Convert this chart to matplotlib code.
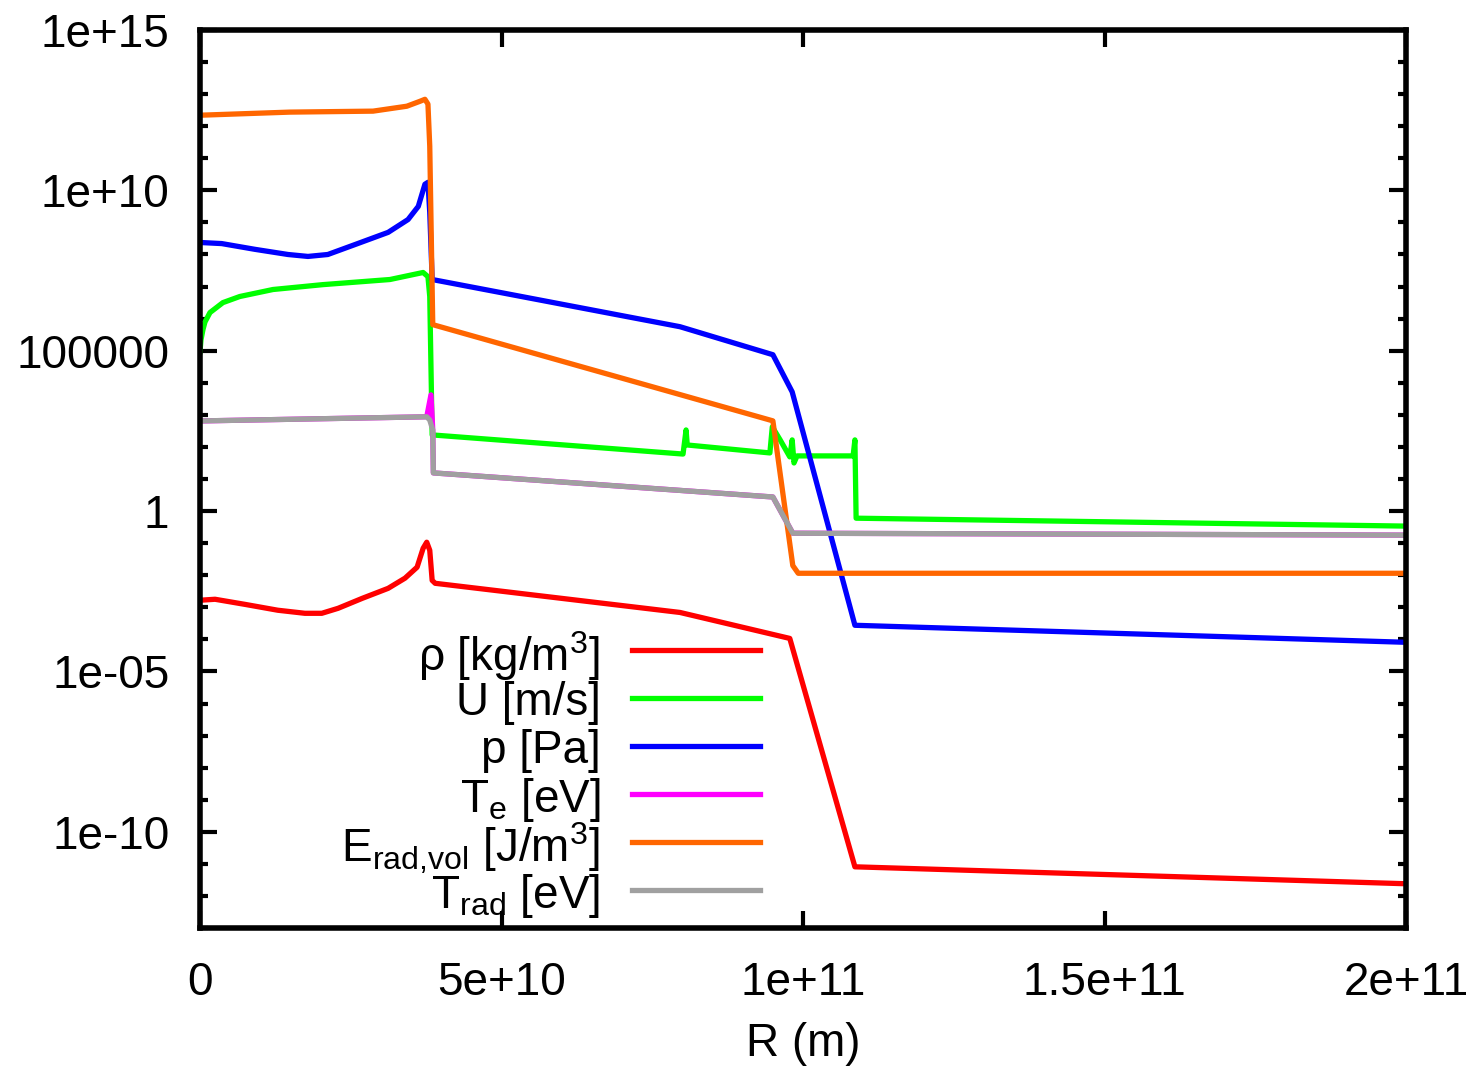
"""
Radiative shock profile: log-scale plot of the hydro and radiation fields vs. radius.
"""
import matplotlib
matplotlib.use("Agg")
import matplotlib.pyplot as plt
from matplotlib.lines import Line2D
from matplotlib.ticker import LogLocator, NullFormatter, FixedLocator

# ── Data ──────────────────────────────────────────────────────────────────
# density rho [kg/m^3]
R_RHO = [0, 0.25e10, 0.75e10, 1.29e10, 1.74e10, 2.02e10, 2.29e10, 2.69e10, 3.12e10,
         3.40e10, 3.60e10, 3.70e10, 3.76e10, 3.81e10, 3.85e10, 3.90e10,
         7.96e10, 9.78e10, 10.86e10, 20.0e10]
RHO = [1.66e-3, 1.78e-3, 1.23e-3, 8.1e-4, 6.5e-4, 6.5e-4, 9.3e-4, 1.9e-3, 3.9e-3,
       8.1e-3, 1.78e-2, 6.9e-2, 1.07e-1, 6.0e-2, 6.9e-3, 5.6e-3,
       6.9e-4, 1.07e-4, 8.1e-12, 2.4e-12]

# velocity U [m/s]
R_U = [0, 0.017e10, 0.05e10, 0.083e10, 0.166e10, 0.38e10, 0.66e10, 1.21e10, 2.04e10,
       3.15e10, 3.70e10, 3.78e10, 3.81e10, 3.85e10, 8.01e10, 8.06e10, 8.08e10, 9.45e10,
       9.49e10, 9.62e10, 9.78e10, 9.82e10, 9.85e10, 9.90e10, 10.83e10, 10.86e10,
       10.88e10, 20.0e10]
U = [9.3e4, 2.2e5, 4.6e5, 7.9e5, 1.55e6, 3.16e6, 4.9e6, 8.1e6, 1.15e7,
     1.66e7, 2.75e7, 2.04e7, 4.9e6, 237, 60, 339, 115, 65,
     422, 166, 49, 166, 31.6, 52.5, 52.5, 166,
     0.60, 0.34]

# pressure p [Pa]
R_P = [0, 0.36e10, 0.91e10, 1.46e10, 1.79e10, 2.12e10, 2.57e10, 3.12e10, 3.45e10,
       3.62e10, 3.73e10, 3.78e10, 3.81e10, 3.85e10,
       7.96e10, 9.50e10, 9.82e10, 10.86e10, 20.0e10]
P = [2.37e8, 2.19e8, 1.45e8, 1.0e8, 8.7e7, 1.0e8, 2.04e8, 4.9e8, 1.23e9,
     3.16e9, 1.55e10, 1.78e10, 2.04e9, 1.66e7,
     5.6e5, 7.5e4, 5.2e3, 2.75e-4, 8.1e-5]

# electron temperature Te [eV]
R_TE = [0, 3.76e10, 3.83e10, 3.86e10, 3.87e10, 9.50e10, 9.83e10, 20.0e10]
TE = [646, 870, 4.2e3, 339, 15.5, 2.75, 0.204, 0.178]

# radiation energy density E_rad,vol [J/m^3]
R_ERAD = [0, 1.49e10, 2.87e10, 3.43e10, 3.65e10, 3.73e10, 3.78e10, 3.81e10, 3.86e10,
          9.50e10, 9.83e10, 9.92e10, 20.0e10]
ERAD = [2.2e12, 2.75e12, 2.95e12, 4.2e12, 6.0e12, 6.9e12, 4.9e12, 2.37e11, 6.5e5,
        6.5e2, 2.0e-2, 1.15e-2, 1.15e-2]

# radiation temperature Trad [eV]
R_TRAD = [0, 3.76e10, 3.81e10, 3.86e10, 3.87e10, 9.50e10, 9.83e10, 20.0e10]
TRAD = [646, 870, 690, 339, 15.5, 2.75, 0.204, 0.178]

LABELS = ["ρ [kg/m$^3$]", "U [m/s]", "p [Pa]", "T$_e$ [eV]",
          "E$_{rad{,}vol}$ [J/m$^3$]", "T$_{rad}$ [eV]"]
COLORS = ["#ff0000", "#00ff00", "#0000ff", "#ff00ff", "#ff6600", "#a0a0a0"]

X_TICKS = [0, 5e10, 1e11, 1.5e11, 2e11]
X_TICKLABELS = ["0", "5e+10", "1e+11", "1.5e+11", "2e+11"]
Y_TICKS = [1e-10, 1e-5, 1, 1e5, 1e10, 1e15]
Y_TICKLABELS = ["1e-10", "1e-05", "1", "100000", "1e+10", "1e+15"]

# ── Style ──────────────────────────────────────────────────────────────────
plt.rcParams.update({
    "font.family": ["Liberation Sans", "DejaVu Sans"],
    "font.size": 33,
    "mathtext.default": "regular",
})

fig = plt.figure(figsize=(14.77, 10.71), dpi=100)
ax = fig.add_axes([0.1354, 0.1335, 0.9520 - 0.1354, 0.972 - 0.1335])

series = [(R_RHO, RHO), (R_U, U), (R_P, P), (R_TE, TE), (R_ERAD, ERAD), (R_TRAD, TRAD)]
for (xs, ys), c in zip(series, COLORS):
    ax.plot(xs, ys, color=c, lw=3.8, solid_joinstyle="round")

ax.set_yscale("log")
ax.set_xlim(0, 2e11)
ax.set_ylim(1e-13, 1e15)

ax.set_xticks(X_TICKS)
ax.set_xticklabels(X_TICKLABELS)
ax.yaxis.set_major_locator(FixedLocator(Y_TICKS))
ax.set_yticklabels(Y_TICKLABELS)
ax.yaxis.set_minor_locator(LogLocator(base=10, subs=[1.0], numticks=40))
ax.yaxis.set_minor_formatter(NullFormatter())

ax.tick_params(which="both", direction="in", top=True, right=True, width=3)
ax.tick_params(which="major", length=12)
ax.tick_params(which="minor", length=6)
ax.tick_params(axis="y", which="major", pad=22)
ax.tick_params(axis="x", which="major", pad=24)
for s in ax.spines.values():
    s.set_linewidth(4)

ax.set_xlabel("R (m)", labelpad=12)

# ── Key: right-aligned labels with line samples (gnuplot style) ────────────
y0, dy = 0.3096, 0.05345
for i, (lab, c) in enumerate(zip(LABELS, COLORS)):
    y = y0 - i * dy
    ax.text(0.332, y, lab, transform=ax.transAxes, ha="right", va="center_baseline",
            fontsize=33)
    ax.add_line(Line2D([0.358, 0.464], [y, y], transform=ax.transAxes,
                       color=c, lw=3.8))

fig.savefig("out.png", dpi=100)
